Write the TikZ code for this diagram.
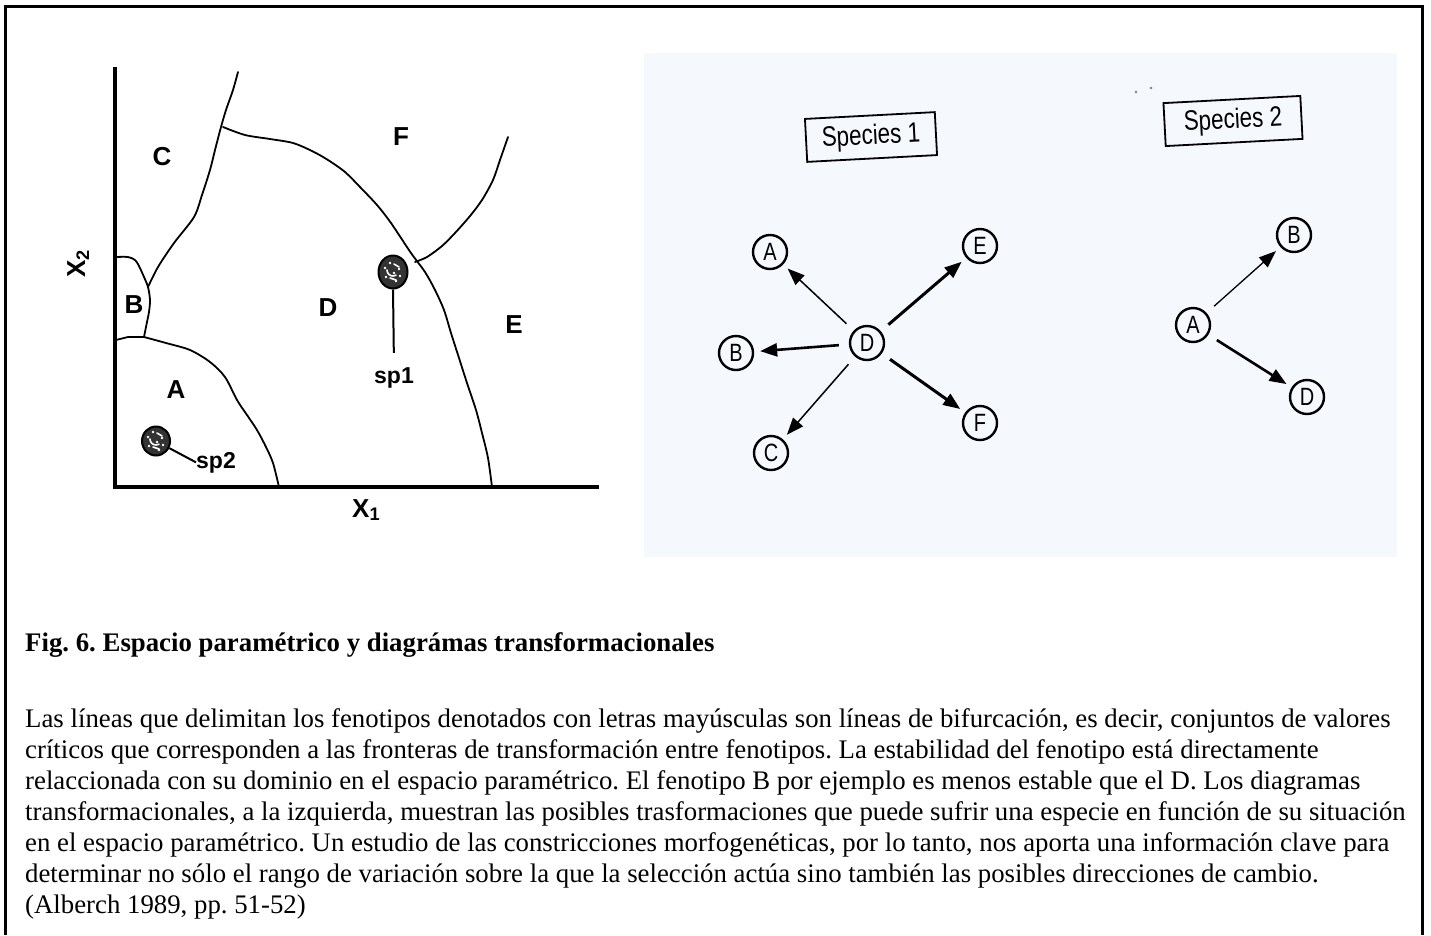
\documentclass[tikz,border=0pt]{standalone}
\usepackage{fontspec}
\setmainfont{Liberation Serif}
\newfontfamily\plotfont{Liberation Sans}
\newfontfamily\condfont[FakeStretch=0.8]{Liberation Sans}
\usetikzlibrary{arrows.meta,positioning,shapes.geometric}
\definecolor{panelbg}{RGB}{245,249,253}
\frenchspacing

\begin{document}
\begin{tikzpicture}[x=1pt, y=-1pt,
		zone/.style={font=\plotfont\bfseries\fontsize{26}{26}\selectfont, inner sep=0pt},
		bound/.style={line width=1.8pt, line join=round, line cap=round},
		axisline/.style={line width=4pt},
		spore/.style={ellipse, draw, fill=black!80, line width=2pt, inner sep=0pt},
		speck/.style={white, line width=1.6pt, line cap=round},
		specbox/.style={draw, line width=1.8pt, rotate=3, inner sep=4pt, minimum height=43pt, font=\condfont\fontsize{28}{28}\selectfont},
		phen/.style={circle, draw, line width=2.4pt, minimum size=34pt, inner sep=0pt, font=\condfont\fontsize{25}{25}\selectfont},
		trans/.style={-{Triangle[length=17pt,width=13pt]}, shorten <=10pt, shorten >=6pt},
		txt/.style={font=\fontsize{26.8}{31}\selectfont, inner sep=0pt}]

		\useasboundingbox (0,0) rectangle (1431,935);
		\fill[panelbg] (644,53) rectangle (1397,557);
		\draw[line width=3pt] (5.5,935) -- (5.5,6.5) -- (1422,6.5) -- (1422,935);

		% parameter space
		\draw[axisline] (115,67) -- (115,487) -- (599,487);
		\draw[bound] plot[smooth] coordinates {(238,72) (233,90) (226,110) (221,127) (215,150) (210,170) (202,195) (194,217) (174,243) (158,267) (148,287)};
		\draw[bound] plot[smooth] coordinates {(223,127) (245,135) (270,139) (293,143) (312,151) (328,160) (345,172) (360,187) (377,205) (391,223) (411,253) (425,272) (435,290) (444,310) (451,333) (459,358) (467,383) (476,410) (482,433) (488,458) (492,487)};
		\draw[bound] plot[smooth] coordinates {(415,262) (427,257) (442,246) (455,233) (470,216) (482,200) (493,180) (500,160) (508,137)};
		\draw[bound] plot[smooth] coordinates {(116,257) (128,257) (135,260) (139,266) (144,277) (148,287) (150,300) (149,312) (147,322) (144,337)};
		\draw[bound] (116,340) -- (128,337) -- (144,337);
		\draw[bound] plot[smooth] coordinates {(144,337) (166,343) (190,350) (210,362) (225,377) (237,400) (247,415) (257,430) (266,447) (273,463) (279,487)};

		\node[zone] (lc) at (162,157) {C};
		\node[zone] (lf) at (401,137) {F};
		\node[zone] (lb) at (134,305) {B};
		\node[zone] (ld) at (328,308) {D};
		\node[zone] (le) at (514,325) {E};
		\node[zone] (la) at (176,390) {A};
		\node[zone, anchor=base west] (xone) at (352,517) {X\textsubscript{1}};
		\node[zone, anchor=base west, rotate=90] (xtwo) at (85,278) {X\textsubscript{2}};

		\node[spore, minimum width=29pt, minimum height=33pt] (sp1blob) at (393,272) {};
		\node[spore, minimum width=28pt, minimum height=29pt] (sp2blob) at (156,441) {};
		\foreach \b in {sp1blob, sp2blob} {
			\draw[speck] ([shift={(-6,-2)}]\b.center) arc[start angle=180, end angle=300, radius=6pt];
			\draw[speck] ([shift={(1,-8)}]\b.center) -- ++(5,3);
			\draw[speck] ([shift={(-3,6)}]\b.center) -- ++(6,2);
			\foreach \dx/\dy in {-7/5, -3/-9, 6/-3, 7/4, 1/1, -8/-4, 3/9}
				\fill[white] ([shift={(\dx,\dy)}]\b.center) circle (1.4pt);
		}
		\node[zone, font=\plotfont\bfseries\fontsize{23}{23}\selectfont, anchor=base] (sp1lab) at (394,383) {sp1};
		\node[zone, font=\plotfont\bfseries\fontsize{23}{23}\selectfont, anchor=base west] (sp2lab) at (196,468) {sp2};
		\draw[line width=2pt, shorten >=14pt] (sp1blob.south) -- (sp1lab.north);
		\draw[line width=2pt] (sp2blob) -- (sp2lab.west);

		% transformational diagrams
		\node[specbox, minimum width=130pt] (spec1) at (871,137) {Species 1};
		\node[specbox, minimum width=137pt] (spec2) at (1233,121) {Species 2};
		\fill[gray] (1136,92) circle (1.3pt) (1151,88) circle (1.3pt);

		\node[phen] (s1d) at (867,343) {D};
		\node[phen] (s1a) at (770,252) {A};
		\node[phen] (s1e) at (980,246) {E};
		\node[phen] (s1b) at (736,353) {B};
		\node[phen] (s1c) at (771,453) {C};
		\node[phen] (s1f) at (980,423) {F};
		\node[phen] (s2a) at (1193,325) {A};
		\node[phen] (s2b) at (1294,235) {B};
		\node[phen] (s2d) at (1307,397) {D};

		\draw[trans, line width=1.5pt] (s1d) -- (s1a);
		\draw[trans, line width=3pt] (s1d) -- (s1e);
		\draw[trans, line width=2.6pt] (s1d) -- (s1b);
		\draw[trans, line width=1.5pt] (s1d) -- (s1c);
		\draw[trans, line width=3pt] (s1d) -- (s1f);
		\draw[trans, line width=1.3pt] (s2a) -- (s2b);
		\draw[trans, line width=2.6pt] (s2a) -- (s2d);

		% caption
		\node[txt, font=\bfseries\fontsize{26.8}{31}\selectfont, anchor=base west] (title) at (25,651) {Fig. 6. Espacio paramétrico y diagrámas transformacionales};
		\node[txt, anchor=north west, align=left] (caption) at (25,708) {Las líneas que delimitan los fenotipos denotados con letras mayúsculas son líneas de bifurcación, es decir, conjuntos de valores\\
críticos que corresponden a las fronteras de transformación entre fenotipos. La estabilidad del fenotipo está directamente\\
relaccionada con su dominio en el espacio paramétrico. El fenotipo B por ejemplo es menos estable que el D. Los diagramas\\
transformacionales, a la izquierda, muestran las posibles trasformaciones que puede sufrir una especie en función de su situación\\
en el espacio paramétrico. Un estudio de las constricciones morfogenéticas, por lo tanto, nos aporta una información clave para\\
determinar no sólo el rango de variación sobre la que la selección actúa sino también las posibles direcciones de cambio.\\
(Alberch 1989, pp. 51-52)};

	\end{tikzpicture}
\end{document}
